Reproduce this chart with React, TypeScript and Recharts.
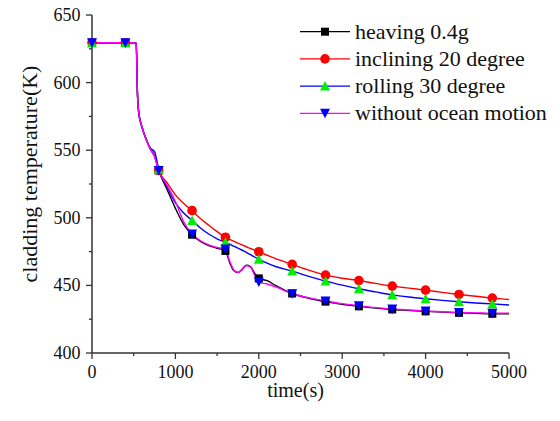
import React from "react";
import { LineChart, Line, XAxis, YAxis, Legend } from "recharts";

const times = [0, 400, 500, 530, 545, 560, 600, 650, 700, 750, 800, 900, 1000, 1100, 1200, 1300, 1400, 1500, 1600, 1650, 1700, 1750, 1800, 1850, 1900, 1950, 2000, 2100, 2200, 2400, 2600, 2800, 3000, 3200, 3400, 3600, 3800, 4000, 4200, 4400, 4600, 4800, 5000];

const heaving = [629.5, 629.5, 629.5, 629, 592, 578, 567, 558, 551, 545.5, 535, 521, 507, 495, 487.5, 482.5, 479.5, 477.5, 475.5, 467, 461, 459.5, 462, 465, 464, 459, 455.2, 453.5, 450, 444, 440.5, 438, 436, 434.5, 433.2, 432.2, 431.5, 430.8, 430.2, 429.7, 429.3, 429, 429];
const inclining = [629.5, 629.5, 629.5, 629, 592, 578, 567, 558, 551, 546, 535, 526, 517, 510.5, 505.3, 499.5, 494.5, 489.8, 485.6, 484, 482.6, 481.2, 479.9, 478.6, 477.3, 476.1, 474.9, 472.3, 469.8, 465.6, 461.3, 457.6, 455.3, 453.6, 451.5, 449.5, 448, 446.5, 444.8, 443.3, 442, 440.6, 439.6];
const rolling = [629.5, 629.5, 629.5, 629, 592, 578, 567, 558, 551.5, 549, 536, 523, 511, 503.5, 498, 492.5, 488, 484.5, 481.9, 480.5, 479, 477.5, 476, 474.5, 472.8, 471, 469.3, 466.5, 464, 460.6, 456.7, 453.2, 450.2, 447.5, 445.2, 443, 441.4, 440.1, 438.9, 437.9, 437, 436.3, 435.5];
const withoutMotion = [629.5, 629.5, 629.5, 629, 592, 578, 567, 558, 550.5, 545, 535, 524, 512, 497, 488, 483, 480, 478, 477, 468, 461.5, 459.5, 461.5, 464.5, 463.5, 457.5, 452.5, 451, 449, 443.8, 440.8, 438.5, 436.5, 435, 433.6, 432.6, 431.8, 431.1, 430.5, 430, 429.7, 429.4, 429.5];

const xTicks = [0, 500, 1000, 1500, 2000, 2500, 3000, 3500, 4000, 4500, 5000];
const yTicks = [400, 425, 450, 475, 500, 525, 550, 575, 600, 625, 650];

const data = times.map((t, i) => ({
  t,
  heaving: heaving[i],
  inclining: inclining[i],
  rolling: rolling[i],
  without: withoutMotion[i],
}));

const FONT = "'Liberation Serif', 'Times New Roman', serif";
const AXIS = "#333";
const txt = (size: number) => ({ fontFamily: FONT, fontSize: size, fill: "#111" });

type Shape = "square" | "circle" | "up" | "down";

function Marker({ shape, cx, cy, fill }: { shape: Shape; cx: number; cy: number; fill: string }) {
  if (shape === "square") return <rect x={cx - 4} y={cy - 4} width={8} height={8} fill={fill} />;
  if (shape === "circle") return <circle cx={cx} cy={cy} r={4.8} fill={fill} />;
  if (shape === "up") return <polygon points={`${cx - 5},${cy + 4.5} ${cx + 5},${cy + 4.5} ${cx},${cy - 5}`} fill={fill} />;
  return <polygon points={`${cx - 5},${cy - 4.5} ${cx + 5},${cy - 4.5} ${cx},${cy + 5}`} fill={fill} />;
}

const makeDot = (shape: Shape, fill: string) => (props: any) => {
  const { cx, cy, payload, index } = props;
  if (payload.t % 400 !== 0) return <g key={`d-${shape}-${index}`} />;
  return (
    <g key={`d-${shape}-${index}`}>
      <Marker shape={shape} cx={cx} cy={cy} fill={fill} />
    </g>
  );
};

const series = [
  { key: "heaving", name: "heaving 0.4g", line: "#000000", marker: "#000000", shape: "square" as Shape },
  { key: "inclining", name: "inclining 20 degree", line: "#ff0000", marker: "#ff0000", shape: "circle" as Shape },
  { key: "rolling", name: "rolling 30 degree", line: "#0000ff", marker: "#00ee00", shape: "up" as Shape },
  { key: "without", name: "without ocean motion", line: "#ff00ff", marker: "#0000ff", shape: "down" as Shape },
];

function YTick(props: any) {
  const { x, y, payload } = props;
  const major = payload.value % 50 === 0;
  const axisX = x + 12;
  return (
    <g>
      <line x1={axisX - (major ? 6 : 3)} x2={axisX} y1={y} y2={y} stroke={AXIS} strokeWidth={1.3} />
      {major && (
        <text x={x + 0.5} y={y} dy={6} textAnchor="end" style={txt(18)}>
          {payload.value}
        </text>
      )}
    </g>
  );
}

function XTick(props: any) {
  const { x, y, payload } = props;
  const major = payload.value % 1000 === 0;
  const axisY = y - 10;
  return (
    <g>
      <line x1={x} x2={x} y1={axisY} y2={axisY + (major ? 6 : 3)} stroke={AXIS} strokeWidth={1.3} />
      {major && (
        <text x={x} y={y + 15} textAnchor="middle" style={txt(18)}>
          {payload.value}
        </text>
      )}
    </g>
  );
}

function LegendBox() {
  return (
    <svg width={264} height={130} style={{ display: "block" }}>
      {series.map((s, i) => {
        const y = 31.7 + i * 27.2;
        return (
          <g key={s.key}>
            <line x1={12} x2={62} y1={y} y2={y} stroke={s.line} strokeWidth={1.3} />
            <Marker shape={s.shape} cx={37} cy={y} fill={s.marker} />
            <text x={67} y={y} dy={7} style={txt(22)}>
              {s.name}
            </text>
          </g>
        );
      })}
    </svg>
  );
}

export default function App() {
  return (
    <div style={{ width: 552, height: 413, position: "relative", margin: "-8px 0 0 -8px", fontFamily: FONT }}>
      <LineChart width={552} height={413} data={data} margin={{ top: 15, right: 43, left: 8, bottom: 0 }}>
        <XAxis
          dataKey="t"
          type="number"
          domain={[0, 5000]}
          ticks={xTicks}
          interval={0}
          height={60}
          tickSize={6}
          tickMargin={4}
          tickLine={false}
          axisLine={{ stroke: AXIS, strokeWidth: 1.5 }}
          tick={<XTick />}
          label={{
            content: (p: any) => {
              const vb = p.viewBox;
              return (
                <text x={vb.x + vb.width / 2 - 5} y={397} textAnchor="middle" style={txt(20)}>
                  time(s)
                </text>
              );
            },
          }}
        />
        <YAxis
          type="number"
          domain={[400, 650]}
          ticks={yTicks}
          interval={0}
          width={84}
          tickSize={6}
          tickMargin={6}
          tickLine={false}
          axisLine={{ stroke: AXIS, strokeWidth: 1.5 }}
          tick={<YTick />}
          label={{
            content: (p: any) => {
              const vb = p.viewBox;
              const cy = vb.y + vb.height / 2 - 10;
              return (
                <text x={30} y={cy} transform={`rotate(-90 30 ${cy})`} dy={7} textAnchor="middle" style={txt(22)}>
                  cladding temperature(K)
                </text>
              );
            },
          }}
        />
        <Legend
          layout="vertical"
          align="center"
          verticalAlign="middle"
          wrapperStyle={{ position: "absolute", left: 288, top: 0, width: 264, height: 130 }}
          content={() => <LegendBox />}
        />
        {series.map((s) => (
          <Line
            key={s.key}
            dataKey={s.key}
            name={s.name}
            type="monotone"
            stroke={s.line}
            strokeWidth={1.4}
            dot={makeDot(s.shape, s.marker)}
            activeDot={false}
            isAnimationActive={false}
          />
        ))}
      </LineChart>
    </div>
  );
}
